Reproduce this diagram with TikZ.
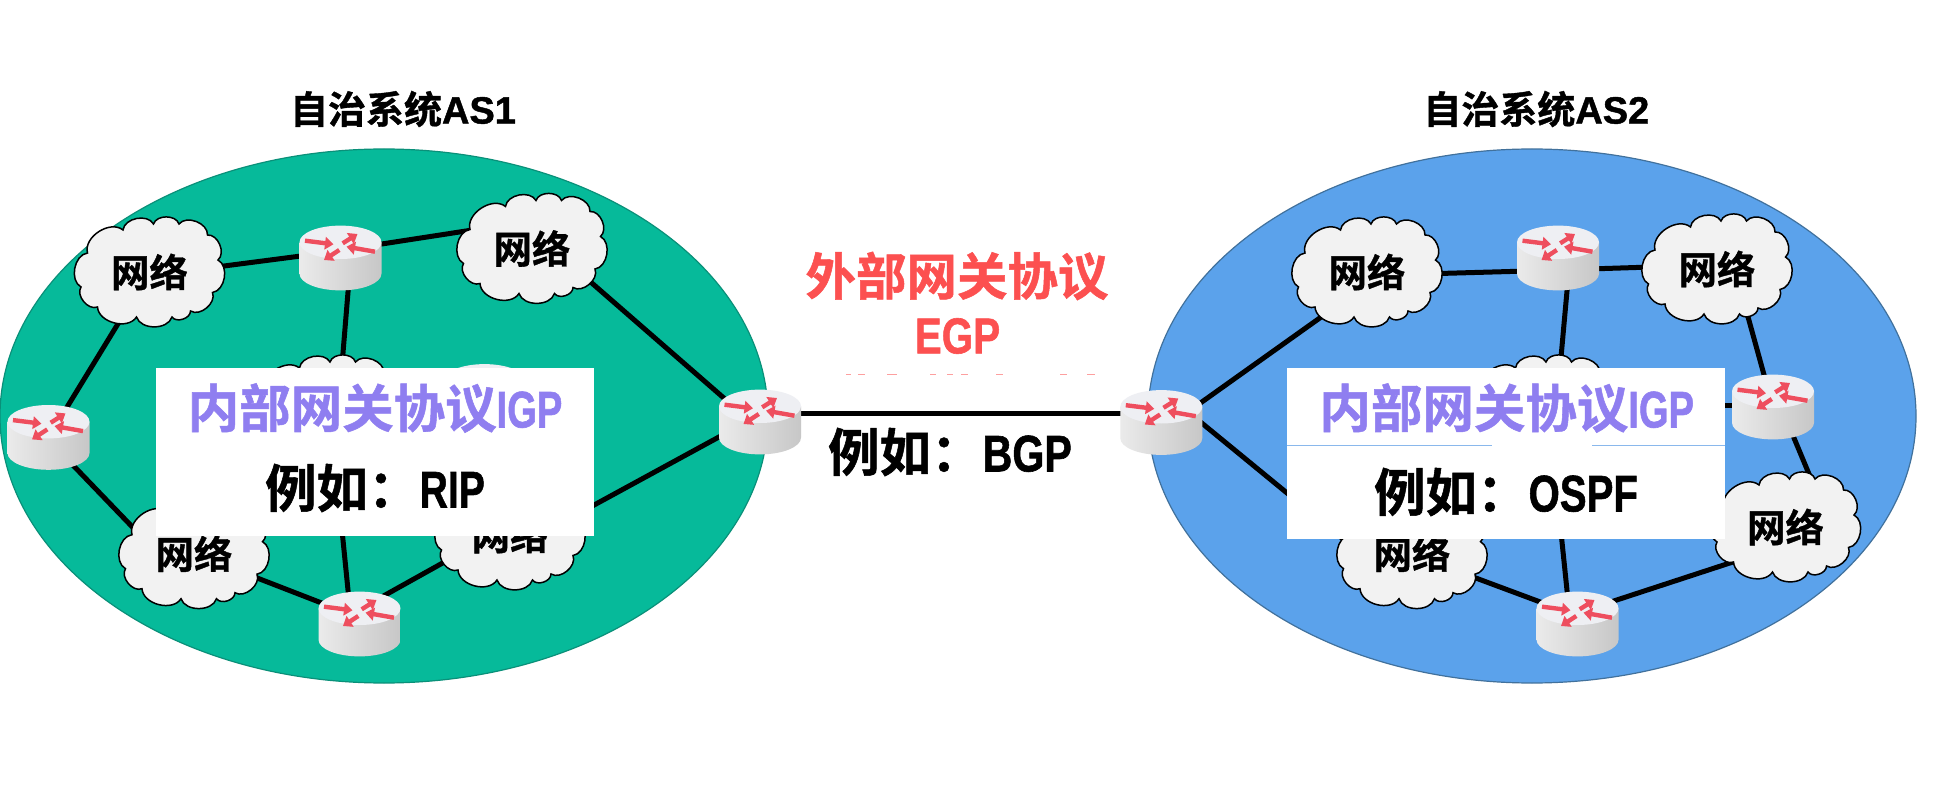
\documentclass[tikz,border=0pt]{standalone}
\usepackage{fontspec}
\usepackage{graphicx}
\usetikzlibrary{shapes.geometric,arrows.meta,calc}
\newfontfamily\cjk{Noto Sans CJK SC Bold}[FakeBold=1]
\newfontfamily\lat{Liberation Sans Bold}[FakeBold=1.2]
\definecolor{asgreen}{HTML}{06BA9A}
\definecolor{asgreenedge}{HTML}{0A9079}
\definecolor{asblue}{HTML}{5BA2EB}
\definecolor{asblueedge}{HTML}{41719C}
\definecolor{igpcol}{HTML}{8F7EF0}
\definecolor{egpcol}{HTML}{FC5050}
\definecolor{cloudfill}{HTML}{F2F2F2}
\definecolor{rtop}{HTML}{EEEFF3}
\definecolor{rarrow}{HTML}{EE4E5E}
\definecolor{hairline}{HTML}{8AB8EC}
\pgfdeclarelayer{back}
\pgfdeclarelayer{edges}
\pgfsetlayers{back,edges,main}
\newcommand{\narrow}[2]{\scalebox{#1}[1]{#2}}
\newcommand{\shf}[3]{([shift={(#2,#3)}]#1.center)}
\tikzset{
  asell/.style={ellipse,inner sep=0pt,outer sep=0pt,minimum width=768,minimum height=534,line width=1.2pt},
  link/.style={line width=5pt,black},
  netlabel/.style={inner sep=0pt,font=\cjk\fontsize{38.5}{38.5}\selectfont,text=black},
  rnode/.style={inner sep=0pt,outer sep=0pt,minimum width=82,minimum height=65},
  hiddennet/.style={inner sep=0pt,outer sep=0pt,minimum width=150,minimum height=106},
  wbox/.style={fill=white,inner sep=0pt,outer sep=0pt},
  rarr/.style={rarrow,line width=4.4pt,-{Triangle[length=8.5pt,width=12.5pt]}},
  title/.style={inner sep=0pt,font=\cjk\fontsize{38}{38}\selectfont,text=black},
  big/.style={inner sep=0pt,font=\cjk\fontsize{51.5}{51.5}\selectfont},
  redbig/.style={inner sep=0pt,font=\cjk\fontsize{50.5}{50.5}\selectfont,text=egpcol},
  pics/netcloud/.style={code={
    \draw[fill=cloudfill,draw=black,line width=1.5pt,bend left=72]
      (-62,-19) to (-26.5,-42) to (4,-48) to (29.5,-48) to (58,-37) to (68.5,-12)
      to (63,20.5) to (41,39) to (22.5,45) to (-13,45) to (-52,35) to (-68.5,15) to cycle;
  }},
  pics/routerpic/.style={code={
    \path[left color=black!8!white,middle color=black!15!white,right color=black!22!white]
      (-41,-15.7) -- (-41,15.7) .. controls (-41,24.9) and (-22.6,32.4) .. (0,32.4)
      .. controls (22.6,32.4) and (41,24.9) .. (41,15.7) -- (41,-15.7) -- cycle;
    \fill[rtop] (0,-15.7) ellipse [x radius=41, y radius=16.7];
    \draw[rarr] (-35.5,-17.3) -- (-7,-13.7);
    \draw[rarr] (2.2,-14.7) -- (17,-24);
    \draw[rarr] (34.5,-6.3) -- (6,-11.3);
    \draw[rarr] (-1.2,-8) -- (-16.5,2);
  }}
}
\newcommand{\cloudat}[3]{\pic at (#2,#3) {netcloud}; \node[netlabel] (#1) at (#2,#3) {网络};}
\newcommand{\hiddencloudat}[3]{\pic at (#2,#3) {netcloud}; \node[hiddennet] (#1) at (#2,#3) {};}
\newcommand{\routerat}[3]{\pic at (#2,#3) {routerpic}; \node[rnode] (#1) at (#2,#3) {};}
\begin{document}
\begin{tikzpicture}[x=1pt,y=-1pt]
\useasboundingbox (0,0) rectangle (1947,786);
\begin{pgfonlayer}{back}
\fill[white] (0,0) rectangle (1947,786);
\node[asell,fill=asgreen,draw=asgreenedge] (as1) at (384,416) {};
\node[asell,fill=asblue,draw=asblueedge] (as2) at (1532,416) {};
\end{pgfonlayer}

% AS1
\routerat{ra}{340.5}{258}
\routerat{rb}{48.5}{437.4}
\routerat{rc}{760}{422}
\routerat{rd}{359.5}{624}
\routerat{re}{484.5}{396.5}
\cloudat{ca}{149.5}{272}
\cloudat{cb}{532}{248.5}
\hiddencloudat{cc}{326}{410}
\cloudat{cd}{194}{553.7}
\cloudat{ce}{510}{535}
% AS2
\routerat{sa}{1558}{258}
\routerat{sb}{1161.3}{422.5}
\routerat{sc}{1773}{407}
\routerat{sd}{1577.5}{624}
\cloudat{da}{1367}{272}
\cloudat{db}{1717}{269}
\hiddencloudat{dc}{1542}{410}
\cloudat{dd}{1412}{553.7}
\cloudat{de}{1785.5}{527}

\begin{pgfonlayer}{edges}
\draw[link] \shf{ca}{64.5}{-4.7} -- \shf{ra}{-29.5}{-3.3};
\draw[link] \shf{ra}{8.5}{22} -- \shf{cc}{16}{-45};
\draw[link] \shf{rb}{12.5}{-20.4} -- \shf{ca}{-22.5}{37};
\draw[link] \shf{rb}{19.5}{22.6} -- \shf{cd}{-52}{-16.7};
\draw[link] \shf{cd}{49}{18.8} -- \shf{rd}{-27.5}{-17};
\draw[link] \shf{rd}{15.5}{-23.3} -- \shf{ce}{-62}{25};
\draw[link] \shf{rd}{-10.5}{-24} -- \shf{cc}{7}{30};
\draw[link] \shf{cb}{46}{22.5} -- \shf{rc}{-27}{-16};
\draw[link] \shf{rc}{-33}{10.6} -- \shf{ce}{30}{-0.5};
\draw[link] \shf{ra}{31.5}{-12.5} -- \shf{cb}{-53}{-19.5};
\draw[link] \shf{rc}{0}{-9} -- \shf{sb}{0}{-9.5};
\draw[link] \shf{da}{65}{1.7} -- \shf{sa}{-30}{13};
\draw[link] \shf{sa}{31}{11} -- \shf{db}{-65}{-2};
\draw[link] \shf{sa}{10}{22} -- \shf{dc}{18.3}{-45};
\draw[link] \shf{db}{26.6}{31.9} -- \shf{sc}{-7}{-25};
\draw[link] \shf{sc}{17.4}{22.4} -- \shf{de}{28.5}{-41};
\draw[link] \shf{de}{-46.5}{33} -- \shf{sd}{25.5}{-19.5};
\draw[link] \shf{dd}{49}{18.8} -- \shf{sd}{-26.5}{-18};
\draw[link] \shf{sd}{-9.5}{-24} -- \shf{dc}{10}{35};
\draw[link] \shf{sb}{30.7}{-13.5} -- \shf{da}{-36}{38};
\draw[link] \shf{sb}{33.7}{-5} -- \shf{dd}{-62}{-9};
\draw[link] \shf{sc}{-30}{-2} -- \shf{dc}{30}{-5};
\end{pgfonlayer}

% white panels
\node[wbox,minimum width=438,minimum height=168.5] (box1) at (375,452.2) {};
\node[wbox,minimum width=438,minimum height=171.4] (box2) at (1506,453.7) {};
\draw[hairline,line width=1pt] (box2.west |- 0,445) -- (1491.5,445);
\draw[hairline,line width=1pt] (1592,445) -- (box2.east |- 0,445);

% faint remnants above the central line
\foreach \a/\b in {846/851,858/865,887/897,930/936,947/953,961/968,996/1003,1060/1067,1087/1095}
  \fill[egpcol!55!white] (\a,373.7) rectangle (\b,375);

% text
\node[title] (t1) at (403,109) {自治系统{\lat AS1}};
\node[title] (t2) at (1536.3,109) {自治系统{\lat AS2}};
\node[big,text=igpcol] (i1) at (375,408) {内部网关协议{\lat\narrow{.74}{IGP}}};
\node[big,text=igpcol] (i2) at (1506.7,408) {内部网关协议{\lat\narrow{.74}{IGP}}};
\node[big,text=black] (x1) at (375,488) {例如：{\lat\narrow{.76}{RIP}}};
\node[big,text=black] (x2) at (1506,492) {例如：{\lat\narrow{.78}{OSPF}}};
\node[big,text=black] (x3) at (950,452) {例如：{\lat\narrow{.8}{BGP}}};
\node[redbig] (e1) at (957,276) {外部网关协议};
\node[redbig] (e2) at (957.5,336) {\lat\narrow{.8}{EGP}};
\end{tikzpicture}
\end{document}
